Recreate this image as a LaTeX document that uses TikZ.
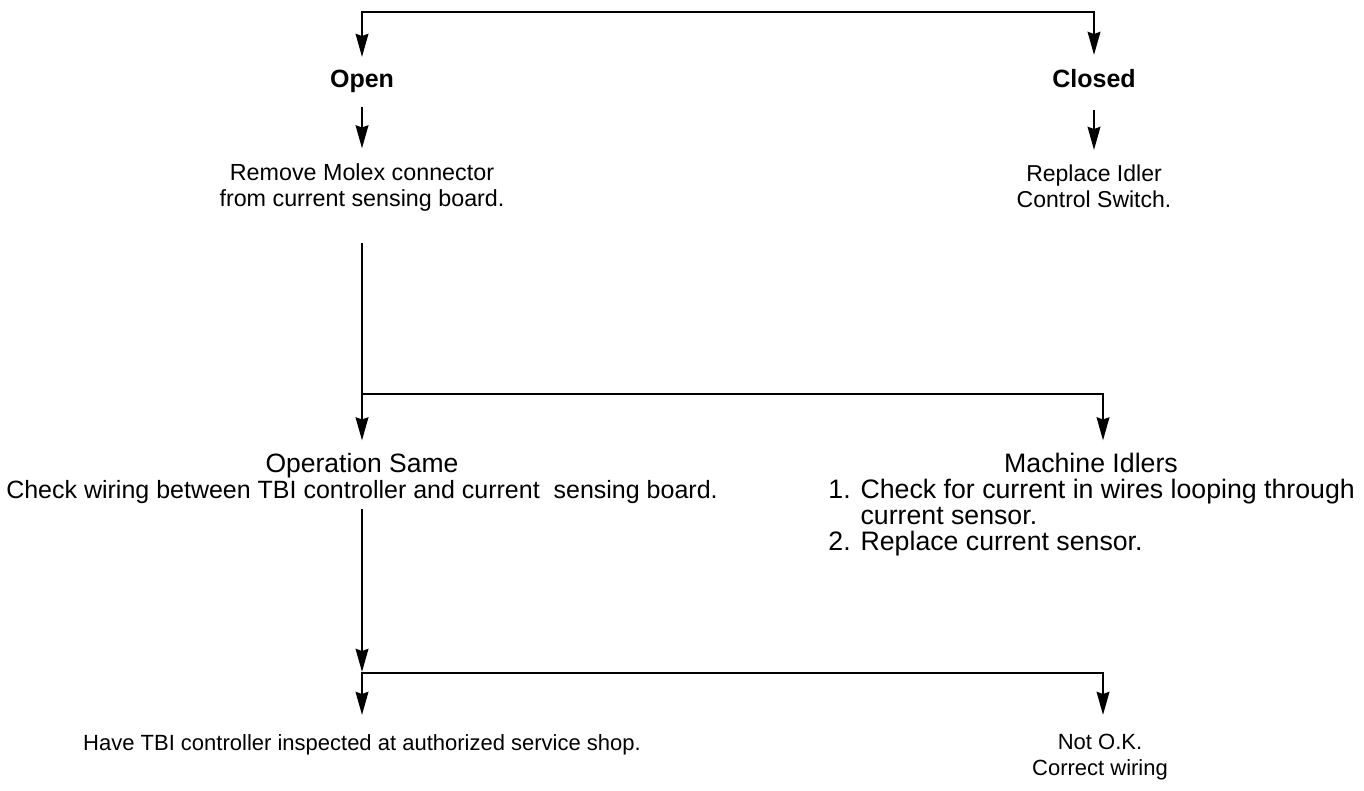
\documentclass[tikz,border=0pt]{standalone}
\usepackage{fontspec}
\setmainfont{Liberation Sans}
\usetikzlibrary{arrows.meta}

\begin{document}
\begin{tikzpicture}[x=1pt, y=-1pt, line width=2.9pt,
    txt/.style={inner sep=0pt, anchor=north, align=center, font=\fontsize{25}{26}\selectfont},
    head/.style={txt, font=\fontsize{25}{26}\selectfont\bfseries},
    tip/.tip={Stealth[length=23pt, width=12.5pt, inset=2pt]},
    arr/.style={-tip},
    arrboth/.style={tip-tip}]
      \useasboundingbox (0,0) rectangle (1364,790);

      \coordinate (topL) at (362,12);
      \node[head] (open) at (362,69) {Open};
      \node[head] (closed) at (1094,68) {Closed};
      \draw[arrboth, shorten <=13pt, shorten >=12pt] (closed.north) |- (topL) -- (open.north);

      \node[txt, font=\fontsize{23.3}{26}\selectfont] (remove) at (362,162.5) {Remove Molex connector\\from current sensing board.};
      \draw[arr, shorten <=12pt, shorten >=14pt] (open.south) -- (remove.north);

      \node[txt, font=\fontsize{23}{26}\selectfont] (replace) at (1094,163) {Replace Idler\\Control Switch.};
      \draw[arr, shorten <=21pt, shorten >=13pt] (closed.south) -- (replace.north);

      \coordinate (join1) at (362,394);
      \coordinate (joinR1) at (1103,394);
      \node[txt] (opsame) at (362,451.5) {{\fontsize{26.5}{26}\selectfont Operation Same}\\Check wiring between TBI controller and current~ sensing board.};
      \node[txt, font=\fontsize{26.7}{26}\selectfont] (idlers) at (1091,451.5) {Machine Idlers};
      \node[txt, font=\fontsize{26.7}{26}\selectfont, anchor=north west, align=left] (idlerlist) at (827,477.5) {1. Check for current in wires looping through\\\hphantom{1. }current sensor.\\2. Replace current sensor.};
      \draw[arr, shorten <=30pt, shorten >=11pt] (remove.south) -- (opsame.north);
      \draw[arr, shorten >=11pt] (join1) -| (joinR1 |- idlers.north);

      \coordinate (join2) at (362,673);
      \coordinate (joinR2) at (1103,673);
      \node[txt, font=\fontsize{22}{26}\selectfont] (inspect) at (362,733) {Have TBI controller inspected at authorized service shop.};
      \node[txt, font=\fontsize{22}{26}\selectfont] (notok) at (1100,733) {Not O.K.\\Correct wiring};
      \draw[arr, shorten <=4pt, shorten >=1pt] (opsame.south) -- (join2);
      \draw[arrboth, shorten <=18pt, shorten >=18pt] (joinR2 |- notok.north) |- (join2) -- (inspect.north);

    \end{tikzpicture}
\end{document}
